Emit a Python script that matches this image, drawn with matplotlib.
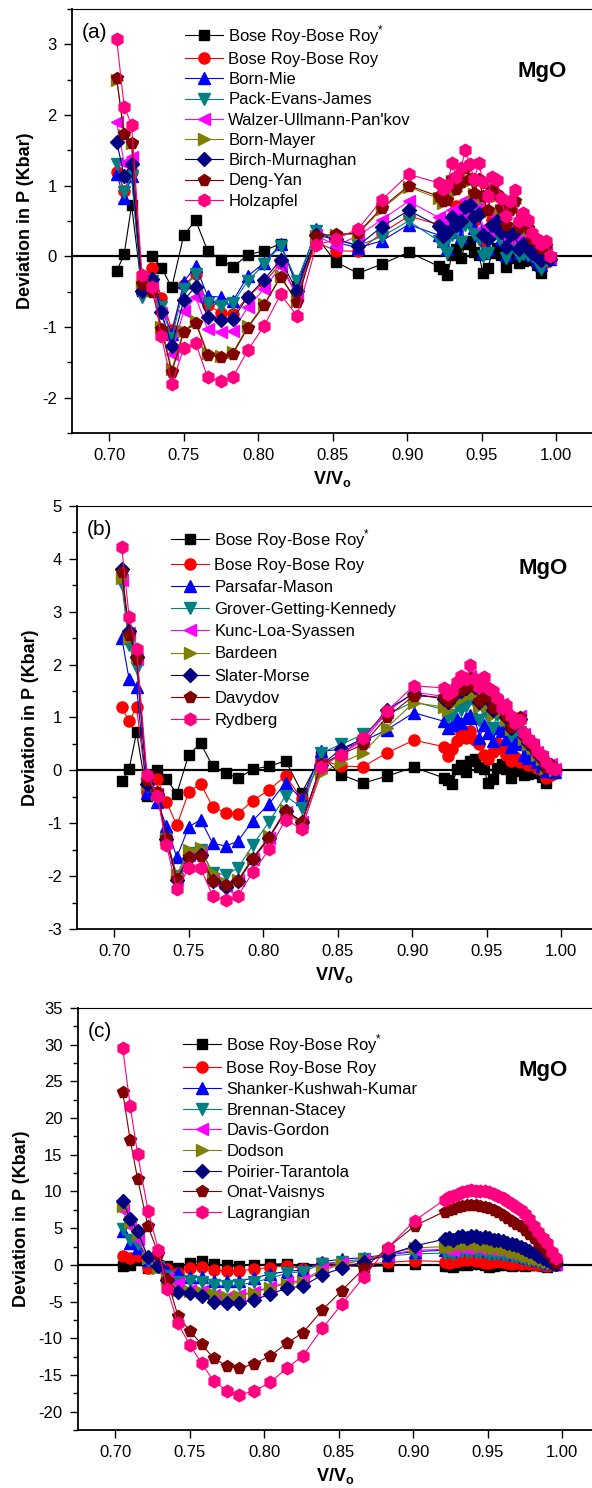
import matplotlib
matplotlib.use('Agg')
import matplotlib.pyplot as plt

plt.rcParams['font.family'] = ['Liberation Sans', 'DejaVu Sans']
plt.rcParams['axes.unicode_minus'] = False
plt.rcParams['mathtext.fontset'] = 'custom'
plt.rcParams['mathtext.rm'] = 'Liberation Sans'
plt.rcParams['mathtext.bf'] = 'Liberation Sans:bold'

# V/Vo values (sparse part + dense part near 0.92-1.00)
x_sparse = [0.705, 0.710, 0.715, 0.722, 0.729, 0.735, 0.742, 0.750, 0.758, 0.766, 0.775,
            0.783, 0.793, 0.804, 0.815, 0.826, 0.839, 0.852, 0.867, 0.883, 0.901]
x_dense = [0.921, 0.924, 0.927, 0.930, 0.933, 0.936, 0.939, 0.942, 0.945, 0.948, 0.951, 0.954, 0.957,
           0.960, 0.963, 0.966, 0.969, 0.972, 0.975, 0.978, 0.981, 0.984, 0.987, 0.990, 0.993, 0.996]
vv = x_sparse + x_dense

# shared by all panels
bose_star = [-0.21, 0.03, 0.72, -0.49, 0.00, -0.16, -0.44, 0.30, 0.51, 0.08, -0.05,
             -0.15, 0.02, 0.08, 0.18, -0.42, 0.28, -0.08, -0.24, -0.11, 0.06,
             -0.14, -0.18, -0.26, 0.02, 0.10, -0.03, 0.17, 0.22, 0.06, 0.02, -0.24, -0.17, 0.05,
             0.12, 0.02, -0.15, 0.03, -0.02, -0.09, -0.07, -0.03, -0.05, -0.12, -0.24, -0.04, -0.02]
bose = [1.19, 0.93, 1.19, -0.40, -0.16, -0.59, -1.04, -0.41, -0.25, -0.69, -0.80,
        -0.82, -0.57, -0.37, -0.10, -0.55, 0.20, 0.08, 0.07, 0.33, 0.57,
        0.45, 0.28, 0.40, 0.55, 0.71, 0.62, 0.74, 0.58, 0.50, 0.30, 0.22, 0.35, 0.52,
        0.40, 0.30, 0.17, 0.25, 0.15, 0.20, 0.10, 0.12, 0.05, 0.00, -0.14, -0.08, -0.05]

# panel (a)
born_mie = [1.16, 0.82, 1.13, -0.45, -0.30, -0.70, -1.10, -0.36, -0.14, -0.56, -0.58,
            -0.63, -0.28, -0.09, 0.17, -0.40, 0.38, 0.20, 0.12, 0.22, 0.45,
            0.30, 0.22, 0.10, 0.35, 0.45, 0.28, 0.50, 0.55, 0.40, 0.30, 0.05, 0.10, 0.35,
            0.40, 0.25, 0.02, 0.18, 0.15, 0.05, 0.08, 0.05, 0.02, -0.05, -0.12, -0.02, -0.04]
pack = [1.31, 0.91, 1.13, -0.58, -0.35, -0.72, -1.15, -0.46, -0.25, -0.66, -0.70,
        -0.66, -0.35, -0.11, 0.15, -0.35, 0.36, 0.25, 0.15, 0.28, 0.50,
        0.22, 0.15, 0.05, 0.30, 0.40, 0.20, 0.45, 0.50, 0.32, 0.25, 0.00, 0.05, 0.30,
        0.35, 0.20, -0.02, 0.12, 0.10, 0.00, 0.04, 0.02, 0.00, -0.08, -0.18, -0.05, -0.06]
walzer = [1.90, 1.32, 1.41, -0.35, -0.40, -0.80, -1.38, -0.77, -0.58, -1.03, -1.07,
          -1.05, -0.72, -0.46, -0.14, -0.55, 0.30, 0.15, 0.29, 0.52, 0.78,
          0.55, 0.45, 0.40, 0.65, 0.60, 0.55, 0.80, 0.75, 0.60, 0.70, 0.40, 0.35, 0.60,
          0.55, 0.45, 0.25, 0.40, 0.45, 0.20, 0.28, 0.22, 0.12, 0.08, 0.00, 0.05, -0.02]
born_mayer = [2.50, 1.72, 1.60, -0.40, -0.48, -1.00, -1.60, -1.05, -0.92, -1.37, -1.41,
              -1.36, -0.99, -0.68, -0.28, -0.63, 0.29, 0.30, 0.32, 0.67, 0.98,
              0.82, 0.76, 0.78, 1.07, 0.93, 1.02, 1.22, 1.07, 0.88, 1.07, 0.83, 0.63, 0.92,
              0.86, 0.66, 0.44, 0.63, 0.76, 0.41, 0.48, 0.39, 0.24, 0.19, 0.11, 0.14, 0.00]
birch = [1.62, 1.14, 1.30, -0.49, -0.32, -0.79, -1.27, -0.62, -0.43, -0.86, -0.90,
         -0.89, -0.57, -0.33, -0.05, -0.49, 0.30, 0.24, 0.15, 0.42, 0.65,
         0.43, 0.29, 0.35, 0.55, 0.45, 0.50, 0.70, 0.72, 0.55, 0.60, 0.30, 0.25, 0.45,
         0.50, 0.35, 0.13, 0.30, 0.35, 0.10, 0.18, 0.12, 0.05, 0.00, -0.05, 0.02, -0.04]
deng_yan = [2.52, 1.73, 1.61, -0.39, -0.50, -1.03, -1.64, -1.07, -0.94, -1.39, -1.43,
            -1.38, -1.01, -0.69, -0.29, -0.65, 0.29, 0.31, 0.33, 0.69, 1.00,
            0.85, 0.78, 0.80, 1.10, 0.95, 1.05, 1.25, 1.10, 0.90, 1.10, 0.85, 0.65, 0.95,
            0.88, 0.68, 0.45, 0.65, 0.78, 0.42, 0.50, 0.40, 0.25, 0.20, 0.12, 0.15, 0.00]
holzapfel = [3.07, 2.12, 1.86, -0.26, -0.43, -1.13, -1.81, -1.30, -1.23, -1.71, -1.77,
             -1.71, -1.33, -0.98, -0.54, -0.84, 0.16, 0.24, 0.39, 0.80, 1.16,
             1.04, 0.95, 1.01, 1.32, 1.12, 1.25, 1.50, 1.30, 1.09, 1.32, 1.05, 0.85, 1.12,
             1.08, 0.83, 0.57, 0.78, 0.94, 0.50, 0.62, 0.51, 0.33, 0.25, 0.17, 0.22, 0.01]

# panel (b)
parsafar = [2.51, 1.72, 1.57, -0.43, -0.60, -1.05, -1.64, -1.07, -0.93, -1.38, -1.43,
            -1.34, -0.95, -0.63, -0.23, -0.55, 0.36, 0.40, 0.55, 0.77, 1.09,
            0.93, 0.80, 0.85, 0.97, 0.90, 0.99, 1.05, 0.99, 0.61, 0.85, 0.70, 0.55, 0.80,
            0.75, 0.60, 0.45, 0.55, 0.50, 0.30, 0.23, 0.25, 0.15, 0.08, -0.02, 0.02, -0.03]
grover = [3.52, 2.38, 1.94, -0.30, -0.50, -1.30, -2.00, -1.56, -1.50, -1.94, -1.97,
          -1.85, -1.41, -0.97, -0.48, -0.71, 0.33, 0.49, 0.68, 1.05, 1.30,
          1.15, 1.00, 1.05, 1.25, 1.15, 1.22, 1.35, 1.25, 0.95, 1.15, 1.00, 0.80, 1.05,
          1.00, 0.85, 0.65, 0.75, 0.72, 0.50, 0.42, 0.40, 0.28, 0.15, 0.02, 0.05, 0.00]
kunc = [3.60, 2.60, 2.10, -0.20, -0.45, -1.35, -2.05, -1.60, -1.55, -2.08, -2.18,
        -2.08, -1.68, -1.28, -0.78, -0.98, 0.08, 0.32, 0.55, 1.10, 1.48,
        1.40, 1.35, 1.42, 1.62, 1.55, 1.60, 1.78, 1.60, 1.35, 1.55, 1.40, 1.20, 1.30,
        1.25, 1.05, 0.85, 0.95, 1.02, 0.68, 0.55, 0.48, 0.35, 0.25, 0.08, 0.12, 0.02]
bardeen = [3.64, 2.50, 2.15, -0.25, -0.45, -1.30, -1.97, -1.50, -1.47, -1.94, -2.13,
           -2.07, -1.65, -1.25, -0.75, -1.06, -0.05, 0.14, 0.33, 0.81, 1.28,
           1.20, 1.15, 1.25, 1.45, 1.35, 1.40, 1.55, 1.45, 1.20, 1.35, 1.22, 1.05, 1.20,
           1.15, 0.95, 0.78, 0.85, 0.90, 0.60, 0.50, 0.42, 0.30, 0.22, 0.05, 0.10, 0.00]
slater = [3.80, 2.63, 2.15, -0.25, -0.45, -1.30, -2.07, -1.65, -1.60, -2.10, -2.20,
          -2.10, -1.67, -1.27, -0.76, -0.97, 0.10, 0.40, 0.60, 1.15, 1.45,
          1.35, 1.30, 1.38, 1.58, 1.50, 1.55, 1.72, 1.58, 1.30, 1.50, 1.35, 1.15, 1.28,
          1.22, 1.00, 0.80, 0.92, 0.98, 0.65, 0.52, 0.45, 0.32, 0.22, 0.05, 0.10, 0.00]
davydov = [3.75, 2.56, 2.11, -0.18, -0.40, -1.28, -2.06, -1.63, -1.61, -2.10, -2.16,
           -2.10, -1.67, -1.27, -0.76, -0.97, 0.11, 0.30, 0.49, 1.01, 1.41,
           1.38, 1.32, 1.40, 1.60, 1.52, 1.58, 1.75, 1.60, 1.32, 1.52, 1.38, 1.18, 1.30,
           1.24, 1.02, 0.82, 0.94, 1.00, 0.66, 0.54, 0.46, 0.33, 0.24, 0.06, 0.11, 0.01]
rydberg = [4.23, 2.90, 2.30, -0.08, -0.49, -1.41, -2.25, -1.85, -1.85, -2.37, -2.46,
           -2.37, -1.93, -1.49, -0.93, -1.11, 0.06, 0.30, 0.61, 1.12, 1.60,
           1.56, 1.45, 1.50, 1.68, 1.79, 1.73, 2.00, 1.72, 1.58, 1.77, 1.55, 1.50, 1.37,
           1.18, 1.24, 1.02, 0.90, 0.95, 0.71, 0.60, 0.52, 0.36, 0.30, 0.15, 0.05, 0.02]

# panel (c)
shanker = [4.55, 3.00, 2.30, 0.60, -0.20, -0.80, -1.14, -1.68, -1.70, -2.14, -2.15,
           -2.14, -1.82, -1.23, -0.91, -0.68, 0.45, 0.77, 1.00, 1.40, 1.80,
           2.0, 2.1, 1.9, 2.2, 2.3, 2.1, 2.3, 2.2, 2.0, 2.1, 1.9, 1.8, 1.9,
           1.8, 1.6, 1.5, 1.5, 1.3, 1.1, 1.0, 0.8, 0.6, 0.5, 0.3, 0.2, 0.1]
brennan = [4.87, 3.41, 2.80, 0.50, -0.30, -1.50, -2.27, -2.14, -2.27, -2.73, -2.87,
           -2.73, -2.37, -1.82, -1.14, -0.91, 0.14, 0.45, 0.80, 1.20, 1.50,
           1.6, 1.7, 1.5, 1.8, 1.9, 1.7, 1.9, 1.8, 1.7, 1.7, 1.5, 1.5, 1.5,
           1.4, 1.3, 1.2, 1.1, 1.0, 0.8, 0.7, 0.6, 0.4, 0.3, 0.2, 0.1, 0.0]
davis = [7.41, 5.23, 3.50, 0.80, -0.50, -1.80, -2.50, -3.41, -3.60, -4.09, -4.32,
         -4.09, -3.70, -3.00, -2.40, -2.10, -0.60, 0.20, 0.60, 1.40, 2.00,
         2.1, 2.2, 2.0, 2.4, 2.5, 2.3, 2.5, 2.4, 2.2, 2.3, 2.1, 2.0, 2.1,
         1.9, 1.8, 1.6, 1.6, 1.4, 1.2, 1.0, 0.9, 0.7, 0.5, 0.3, 0.2, 0.1]
dodson = [8.00, 5.90, 4.20, 1.00, -0.40, -1.90, -3.40, -3.60, -3.70, -4.00, -4.40,
          -4.20, -3.80, -3.10, -2.60, -2.30, -0.80, 0.10, 0.70, 1.60, 2.30,
          2.5, 2.6, 2.4, 2.8, 2.9, 2.7, 2.9, 2.8, 2.6, 2.7, 2.5, 2.3, 2.4,
          2.2, 2.1, 1.9, 1.8, 1.6, 1.4, 1.2, 1.0, 0.8, 0.6, 0.4, 0.2, 0.1]
poirier = [8.77, 6.23, 4.55, 1.05, -0.20, -2.05, -3.64, -3.78, -4.23, -5.00, -5.23,
           -5.14, -4.78, -4.00, -3.18, -2.87, -1.36, -0.45, 0.45, 1.36, 2.59,
           3.5, 3.6, 3.4, 3.8, 3.9, 3.7, 4.0, 3.9, 3.7, 3.8, 3.6, 3.4, 3.4,
           3.2, 3.0, 2.8, 2.7, 2.4, 2.1, 1.9, 1.6, 1.2, 0.9, 0.6, 0.3, 0.1]
onat = [23.51, 17.05, 11.73, 5.23, 1.50, -2.05, -6.91, -9.00, -10.82, -12.73, -13.78,
        -14.10, -13.51, -12.41, -10.68, -9.23, -6.14, -3.50, -0.45, 2.36, 5.32,
        7.27, 7.45, 7.60, 7.85, 8.00, 8.10, 8.19, 8.15, 8.00, 7.87, 7.75, 7.50, 7.20,
        6.82, 6.45, 6.00, 5.55, 5.23, 4.70, 4.20, 3.64, 3.00, 2.40, 1.82, 1.00, 0.23]
lagrangian = [29.56, 21.69, 15.10, 7.37, 2.05, -3.32, -7.96, -10.91, -13.41, -15.83, -17.19,
              -17.74, -17.19, -16.01, -14.10, -12.37, -8.64, -5.37, -1.59, 2.36, 6.04,
              8.87, 9.20, 9.40, 9.70, 9.90, 10.10, 10.23, 10.10, 10.05, 10.00, 9.90, 9.70, 9.40,
              9.10, 8.70, 8.30, 7.90, 7.50, 6.90, 6.30, 5.23, 4.50, 3.70, 2.96, 1.80, 0.91]

star_label = 'Bose Roy-Bose Roy$^{*}$'
names_a = [star_label, 'Bose Roy-Bose Roy', 'Born-Mie', 'Pack-Evans-James', "Walzer-Ullmann-Pan'kov",
           'Born-Mayer', 'Birch-Murnaghan', 'Deng-Yan', 'Holzapfel']
names_b = [star_label, 'Bose Roy-Bose Roy', 'Parsafar-Mason', 'Grover-Getting-Kennedy', 'Kunc-Loa-Syassen',
           'Bardeen', 'Slater-Morse', 'Davydov', 'Rydberg']
names_c = [star_label, 'Bose Roy-Bose Roy', 'Shanker-Kushwah-Kumar', 'Brennan-Stacey', 'Davis-Gordon',
           'Dodson', 'Poirier-Tarantola', 'Onat-Vaisnys', 'Lagrangian']
data_a = [bose_star, bose, born_mie, pack, walzer, born_mayer, birch, deng_yan, holzapfel]
data_b = [bose_star, bose, parsafar, grover, kunc, bardeen, slater, davydov, rydberg]
data_c = [bose_star, bose, shanker, brennan, davis, dodson, poirier, onat, lagrangian]

colors = ['#000000', '#ff0000', '#0000ff', '#008080', '#ff00ff', '#808000', '#000080', '#800000', '#ff0080']
markers = ['s', 'o', '^', 'v', '<', '>', 'D', 'p', 'h']
msizes = [7, 8, 8, 8, 8, 8, 7, 8.5, 9]

W, H = 592, 1488
fig = plt.figure(figsize=(W / 100, H / 100), dpi=100)


def px_axes(left, top, right, bottom):
    return fig.add_axes([left / W, 1 - bottom / H, (right - left) / W, (bottom - top) / H])


def panel(box, ylim, major, minor, names, data, tag, leg_xy, leg_sp):
    ax = px_axes(*box)
    for y, name, c, m, ms in zip(data, names, colors, markers, msizes):
        ax.plot(vv, y, color=c, marker=m, ms=ms, lw=0.8, mec=c, mfc=c, label=name)
    ax.axhline(0, color='black', lw=1.6, zorder=1)
    w_px = box[2] - box[0]
    ax.set_xlim(0.675, 0.675 + w_px * 0.05 / 74.5)
    ax.set_ylim(*ylim)
    ax.set_xticks([0.70, 0.75, 0.80, 0.85, 0.90, 0.95, 1.00])
    ax.set_xticklabels(['0.70', '0.75', '0.80', '0.85', '0.90', '0.95', '1.00'])
    ax.set_xticks([0.675 + 0.025 * i for i in range(1, 14, 2)], minor=True)
    ticks = []
    t = ylim[0] + (major - ylim[0] % major) % major
    while t <= ylim[1] + 1e-9:
        ticks.append(round(t, 6))
        t += major
    ax.set_yticks(ticks)
    ax.set_yticklabels([str(int(v)) for v in ticks])
    mt = []
    t = ylim[0]
    while t <= ylim[1] + 1e-9:
        if all(abs(t - v) > 1e-6 for v in ticks):
            mt.append(t)
        t += minor
    ax.set_yticks(mt, minor=True)
    ax.tick_params(which='major', direction='out', length=6, width=1, labelsize=12, pad=5)
    ax.tick_params(which='minor', direction='out', length=3.5, width=1)
    ax.spines['right'].set_visible(False)
    for s in ['left', 'bottom']:
        ax.spines[s].set_linewidth(1.3)
    ax.spines['top'].set_linewidth(0.8)
    ax.set_ylabel('Deviation in P (Kbar)', fontsize=13, fontweight='bold', labelpad=6)
    ax.set_xlabel(r'V/V$_{\mathbf{o}}$', fontsize=13, fontweight='bold', labelpad=4)
    ax.text(0.018, 0.945, tag, transform=ax.transAxes, fontsize=15, va='center', ha='left')
    ax.text(0.905, 0.853, 'MgO', transform=ax.transAxes, fontsize=16, fontweight='bold',
            va='center', ha='center')
    ax.legend(loc='upper left', bbox_to_anchor=(leg_xy[0] / W, 1 - leg_xy[1] / H),
              bbox_transform=fig.transFigure, frameon=False, fontsize=12,
              handlelength=2.3, handletextpad=0.3, labelspacing=leg_sp,
              borderpad=0, borderaxespad=0, markerscale=1.0)
    return ax


panel((72, 9, 592, 433), (-2.5, 3.5), 1, 0.5, names_a, data_a, '(a)', (185, 23), 0.315)
panel((77, 506, 592, 929), (-3, 5), 1, 0.5, names_b, data_b, '(b)', (171, 527), 0.43)
panel((78, 1008, 592, 1430), (-22.5, 35), 5, 2.5, names_c, data_c, '(c)', (183, 1032), 0.34)

fig.savefig('out.png', dpi=100)
